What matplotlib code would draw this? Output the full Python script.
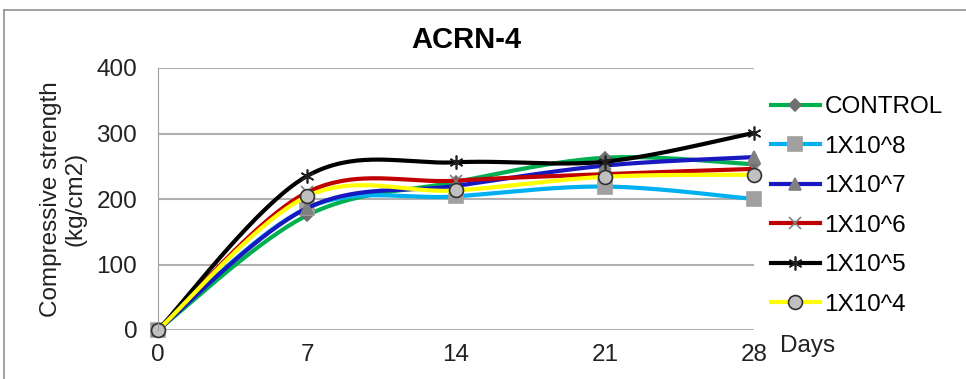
import numpy as np
import matplotlib.pyplot as plt
from matplotlib.lines import Line2D

days = [0, 7, 14, 21, 28]
control = [0, 175, 226, 263, 253]
e8 = [0, 186, 204, 219, 200]
e7 = [0, 186, 220, 251, 264]
e6 = [0, 210, 228, 238, 246]
e5 = [0, 235, 256, 257, 301]
e4 = [0, 204, 213, 234, 237]

labels = ["CONTROL", "1X10^8", "1X10^7", "1X10^6", "1X10^5", "1X10^4"]
series = [control, e8, e7, e6, e5, e4]


def smooth(x, y, n=40):
    # excel-like smoothed line (catmull-rom bezier)
    x = np.asarray(x, float)
    y = np.asarray(y, float)
    px = np.concatenate([[x[0]], x, [x[-1]]])
    py = np.concatenate([[y[0]], y, [y[-1]]])
    xs, ys = [], []
    t = np.linspace(0, 1, n)
    for i in range(1, len(px) - 2):
        p0 = np.array([px[i], py[i]])
        p3 = np.array([px[i + 1], py[i + 1]])
        p1 = p0 + (np.array([px[i + 1], py[i + 1]]) - np.array([px[i - 1], py[i - 1]])) / 6
        p2 = p3 - (np.array([px[i + 2], py[i + 2]]) - np.array([px[i], py[i]])) / 6
        b = ((1 - t) ** 3)[:, None] * p0 + (3 * (1 - t) ** 2 * t)[:, None] * p1 \
            + (3 * (1 - t) * t ** 2)[:, None] * p2 + (t ** 3)[:, None] * p3
        xs.extend(b[:, 0])
        ys.extend(b[:, 1])
    return xs, ys


plt.rcParams['font.family'] = ['Liberation Sans', 'DejaVu Sans']

fig = plt.figure(figsize=(9.66, 3.79), dpi=100)
ax = fig.add_axes([158 / 966, 1 - 330 / 379, (754 - 158) / 966, (330 - 68) / 379])

colors = ["#00B050", "#00B0F0", "#1818C0", "#C00000", "#000000", "#FFFF00"]
markers = ["D", "s", "^", "x", (6, 2, 0), "o"]
msizes = [6, 10, 9, 9, 10, 10]
mfc = ["#707070", "#A0A0A0", "#808080", "#808080", "#202020", "#C0C0C0"]
mec = ["#707070", "#A0A0A0", "#808080", "#808080", "#202020", "#303030"]

handles = []
for s, lab, c, m, ms, fc, ec in zip(series, labels, colors, markers, msizes, mfc, mec):
    sx, sy = smooth(days, s)
    ax.plot(sx, sy, color=c, lw=3, clip_on=False, solid_capstyle='round')
    ax.plot(days, s, ls='none', marker=m, ms=ms, mfc=fc, mec=ec, mew=1.2, clip_on=False)
    handles.append(Line2D([0], [0], color=c, lw=3, marker=m, ms=ms, mfc=fc, mec=ec, mew=1.2))

ax.set_xlim(0, 28)
ax.set_ylim(0, 400)
ax.set_xticks(days)
ax.set_yticks([0, 100, 200, 300, 400])
ax.yaxis.grid(True, color="#B0B0B0", lw=1.5)
ax.set_axisbelow(True)
for sp in ["top", "right", "bottom"]:
    ax.spines[sp].set_visible(False)
ax.spines["left"].set_color("#A0A0A0")
ax.tick_params(axis='both', length=0, labelsize=17.5, colors="#222222")
ax.tick_params(axis='y', pad=15)
ax.tick_params(axis='x', pad=10)

ax.set_ylabel("Compressive strength\n(kg/cm2)", fontsize=17.5, color="#222222", labelpad=7, linespacing=1.15)
fig.text(780 / 966, 1 - 346 / 379, "Days", fontsize=17.5, color="#222222", va='center')

fig.text(466 / 966, 1 - 40 / 379, "ACRN-4", fontsize=21, fontweight='bold',
         family=['Liberation Sans Narrow', 'Liberation Sans'], ha='center', va='center')

fig.legend(handles, labels, loc='upper left', bbox_to_anchor=(771 / 966, 1 - 96 / 379),
           frameon=False, fontsize=17.5, handlelength=2.0, handletextpad=0.2,
           labelspacing=0.72, borderpad=0, borderaxespad=0)

fig.add_artist(Line2D([4 / 966, 4 / 966], [0, 1 - 10 / 379], color="#909090", lw=1.2))
fig.add_artist(Line2D([4 / 966, 1], [1 - 10 / 379, 1 - 10 / 379], color="#909090", lw=1.2))

fig.savefig("out.png", dpi=100)
